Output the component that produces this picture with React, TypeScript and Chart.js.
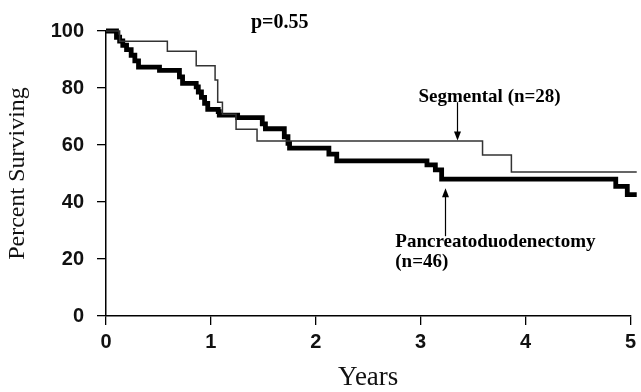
import React, { useEffect, useRef } from "react";
import { Chart, registerables } from "chart.js";

Chart.register(...registerables);

// Kaplan-Meier step curves: time (years) and percent surviving after each step
const segTimes = [0, 0.13, 0.585, 0.86, 1.04, 1.065, 1.11, 1.24, 1.44, 3.59, 3.865, 5.06];
const segSurv = [100, 96.4, 92.9, 87.8, 82.8, 75.0, 70.8, 65.5, 61.4, 56.5, 50.5, 50.5];

const pdTimes = [0, 0.10, 0.13, 0.16, 0.196, 0.24, 0.275, 0.31, 0.51, 0.70, 0.73, 0.86, 0.88, 0.91, 0.94, 0.97, 1.07, 1.08, 1.255, 1.49, 1.52, 1.70, 1.735, 1.75, 2.125, 2.20, 3.06, 3.14, 3.20, 4.86, 4.97, 5.06];
const pdSurv = [100, 97.8, 96.5, 95.0, 93.5, 91.5, 89.5, 87.3, 86.2, 83.9, 81.6, 80.4, 78.6, 76.7, 74.6, 72.5, 71.7, 70.5, 69.6, 67.4, 65.7, 62.9, 60.6, 58.9, 56.8, 54.4, 53.0, 51.3, 48.0, 45.5, 42.6, 42.6];

const seriesNames = ["Segmental (n=28)", "Pancreatoduodenectomy (n=46)"];
const xTicks = [0, 1, 2, 3, 4, 5];
const yTicks = [0, 20, 40, 60, 80, 100];

export default function App() {
  const ref = useRef<HTMLCanvasElement | null>(null);

  useEffect(() => {
    document.body.style.margin = "0";
    const canvas = ref.current;
    if (!canvas) return;

    const annotate = {
      id: "annotate",
      afterDraw(chart: any) {
        const { ctx, scales } = chart;
        const xs = scales.x;
        const ys = scales.y;
        const X = (v: number) => xs.getPixelForValue(v);
        const Y = (v: number) => ys.getPixelForValue(v);
        ctx.save();
        ctx.fillStyle = "#000";
        ctx.textBaseline = "alphabetic";
        ctx.textAlign = "left";
        ctx.font = "bold 20px 'Liberation Serif', 'Times New Roman', serif";
        ctx.fillText("p=0.55", X(1.382), Y(100.9));
        ctx.font = "bold 19px 'Liberation Serif', 'Times New Roman', serif";
        ctx.fillText("Segmental (n=28)", X(2.979), Y(75.2));
        ctx.fillText("Pancreatoduodenectomy", X(2.758), Y(24.3));
        ctx.fillText("(n=46)", X(2.758), Y(17.3));

        const arrow = (xv: number, y0: number, y1: number) => {
          const x = Math.round(X(xv)) + 0.5;
          const a = Y(y0);
          const b = Y(y1);
          const dir = b > a ? 1 : -1;
          ctx.strokeStyle = "#000";
          ctx.lineWidth = 1.2;
          ctx.beginPath();
          ctx.moveTo(x, a);
          ctx.lineTo(x, b - dir * 6);
          ctx.stroke();
          ctx.beginPath();
          ctx.moveTo(x, b);
          ctx.lineTo(x - 3.5, b - dir * 9);
          ctx.lineTo(x + 3.5, b - dir * 9);
          ctx.closePath();
          ctx.fill();
        };
        arrow(3.343, 75.0, 61.6);
        arrow(3.232, 28.0, 44.8);
        ctx.restore();
      },
    };

    const chart = new Chart(canvas, {
      type: "line",
      data: {
        datasets: [
          {
            label: seriesNames[0],
            data: segTimes.map((t, i) => ({ x: t, y: segSurv[i] })),
            stepped: "before",
            borderColor: "#333",
            borderWidth: 1.5,
            pointRadius: 0,
            fill: false,
          },
          {
            label: seriesNames[1],
            data: pdTimes.map((t, i) => ({ x: t, y: pdSurv[i] })),
            stepped: "before",
            borderColor: "#000",
            borderWidth: 4.8,
            pointRadius: 0,
            fill: false,
          },
        ],
      },
      options: {
        animation: false,
        responsive: false,
        clip: false as any,
        layout: { padding: { top: 31, right: 8, left: 0, bottom: 0 } },
        plugins: { legend: { display: false }, tooltip: { enabled: false } },
        scales: {
          x: {
            type: "linear",
            min: 0,
            max: 5,
            afterBuildTicks: (s: any) => {
              s.ticks = xTicks.map((v) => ({ value: v }));
            },
            afterFit: (s: any) => {
              s.height = 76;
            },
            grid: { display: true, drawOnChartArea: false, color: "#000", lineWidth: 1.3, tickLength: 9 },
            border: { display: true, color: "#000", width: 1.5 },
            ticks: {
              color: "#111",
              padding: 5,
              maxRotation: 0,
              font: { family: "'Liberation Sans', Arial, sans-serif", size: 20, weight: "bold" },
            },
            title: {
              display: true,
              text: "Years",
              color: "#111",
              padding: { top: 0, bottom: -2 },
              font: { family: "'Liberation Serif', 'Times New Roman', serif", size: 27, lineHeight: 1.2 },
            },
          },
          y: {
            type: "linear",
            min: 0,
            max: 100,
            afterBuildTicks: (s: any) => {
              s.ticks = yTicks.map((v) => ({ value: v }));
            },
            afterFit: (s: any) => {
              s.width = 106;
            },
            grid: { display: true, drawOnChartArea: false, color: "#000", lineWidth: 1.3, tickLength: 9 },
            border: { display: true, color: "#000", width: 1.5 },
            ticks: {
              color: "#111",
              padding: 13,
              font: { family: "'Liberation Sans', Arial, sans-serif", size: 20, weight: "bold" },
            },
            title: {
              display: true,
              text: "Percent Surviving",
              color: "#111",
              padding: { top: 3, bottom: 0 },
              font: { family: "'Liberation Serif', 'Times New Roman', serif", size: 24, lineHeight: 1.2 },
            },
          },
        },
      },
      plugins: [annotate],
    } as any);

    return () => chart.destroy();
  }, []);

  return (
    <div style={{ position: "absolute", left: 0, top: 0, width: 641, height: 392, background: "#fff" }}>
      <canvas ref={ref} width={641} height={392} />
    </div>
  );
}
